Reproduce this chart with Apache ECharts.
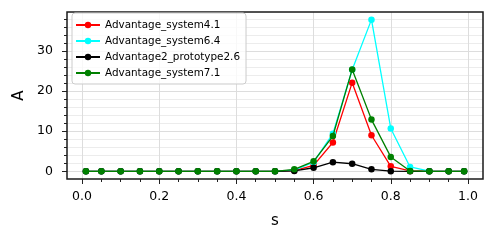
<!DOCTYPE html>
<html>
<head>
<meta charset="utf-8">
<script src="https://cdn.jsdelivr.net/npm/echarts@6/dist/echarts.min.js"></script>
<style>
html,body{margin:0;padding:0;background:#fff;}
#chart{width:496px;height:242px;}
</style>
</head>
<body>
<div id="chart"></div>
<script>
// ---- data ----
const sValues = [0.01,0.05,0.10,0.15,0.20,0.25,0.30,0.35,0.40,0.45,0.50,0.55,0.60,0.65,0.70,0.75,0.80,0.85,0.90,0.95,0.99];
const seriesNames = ['Advantage_system4.1','Advantage_system6.4','Advantage2_prototype2.6','Advantage_system7.1'];
const system41 =   [0,0,0,0,0,0,0,0,0,0,0,0.2,1.5,7.2,22.1,9.0,1.25,0.1,0,0,0];
const system64 =   [0,0,0,0,0,0,0,0,0,0,0,0.3,2.3,9.4,25.3,37.8,10.7,1.1,0.05,0,0];
const prototype26 =[0,0,0,0,0,0,0,0,0,0,0,0.1,0.9,2.3,1.9,0.5,0.05,0,0,0,0];
const system71 =   [0,0,0,0,0,0,0,0,0,0,0,0.5,2.5,8.8,25.4,12.9,3.6,0.1,0,0,0];
const xMajorTicks = [0,0.2,0.4,0.6,0.8,1.0];
const xMinorTicks = [0.05,0.1,0.15,0.25,0.3,0.35,0.45,0.5,0.55,0.65,0.7,0.75,0.85,0.9,0.95];
const yMajorTicks = [0,10,20,30];
const yMinorTicks = [2,4,6,8,12,14,16,18,22,24,26,28,32,34,36,38];

const colors = ['#ff0000','#00ffff','#000000','#008000'];
const allSeries = [system41, system64, prototype26, system71];
const FONT = 'DejaVu Sans';

const xRange = [-0.039, 1.039];
const yRange = [-1.9, 39.7];

function pairs(vals){ return sValues.map((s,i)=>[s, vals[i]]); }

const chart = echarts.init(document.getElementById('chart'), null, {renderer:'canvas'});
const option = {
  animation:false,
  backgroundColor:'#ffffff',
  grid:{left:67, top:12, width:416, height:167, show:true, borderColor:'#1a1a1a', borderWidth:1.5, backgroundColor:'transparent', z:3},
  legend:{
    left:72, top:13, orient:'vertical',
    data: seriesNames,
    itemWidth:24, itemHeight:8, itemGap:2,
    padding:[5,6,4,3],
    borderColor:'#cccccc', borderWidth:1, borderRadius:3,
    backgroundColor:'rgba(255,255,255,0.8)',
    textStyle:{fontFamily:FONT, fontSize:10.4, color:'#000', lineHeight:14},
    z:10
  },
  xAxis:[
    {type:'value', min:xRange[0], max:xRange[1], position:'bottom',
     name:'s', nameLocation:'middle', nameGap:35,
     nameTextStyle:{fontFamily:FONT, fontSize:15, color:'#000'},
     axisLine:{show:false, onZero:false},
     axisTick:{show:true, inside:false, length:5, customValues:xMajorTicks, lineStyle:{color:'#222', width:1}},
     axisLabel:{show:true, customValues:xMajorTicks, margin:11, fontFamily:FONT, fontSize:12.5, color:'#000',
       formatter:v=>v.toFixed(1)},
     splitLine:{show:true, lineStyle:{color:'#dddddd', width:1}}
    },
    {type:'value', min:xRange[0], max:xRange[1], position:'bottom',
     axisLine:{show:false, onZero:false},
     axisTick:{show:true, inside:false, length:3, customValues:xMinorTicks, lineStyle:{color:'#222', width:1}},
     axisLabel:{show:false},
     splitLine:{show:false}
    }
  ],
  yAxis:[
    {type:'value', min:yRange[0], max:yRange[1], position:'left',
     name:'A', nameLocation:'middle', nameGap:37, nameRotate:90,
     nameTextStyle:{fontFamily:FONT, fontSize:15, color:'#000'},
     axisLine:{show:false, onZero:false},
     axisTick:{show:true, inside:false, length:5, customValues:yMajorTicks, lineStyle:{color:'#222', width:1}},
     axisLabel:{show:true, customValues:yMajorTicks, margin:14, fontFamily:FONT, fontSize:12.5, color:'#000'},
     splitLine:{show:true, lineStyle:{color:'#dddddd', width:1}}
    },
    {type:'value', min:yRange[0], max:yRange[1], position:'left',
     axisLine:{show:false, onZero:false},
     axisTick:{show:true, inside:false, length:3, customValues:yMinorTicks, lineStyle:{color:'#222', width:1}},
     axisLabel:{show:false},
     splitLine:{show:true, lineStyle:{color:'#ececec', width:1}}
    }
  ],
  series: seriesNames.map((name,i)=>({
    name:name, type:'line', xAxisIndex:0, yAxisIndex:0,
    data:pairs(allSeries[i]),
    symbol:'circle', symbolSize:6.5, showSymbol:true,
    lineStyle:{color:colors[i], width:1.3},
    itemStyle:{color:colors[i]},
    z:4+i
  }))
};
chart.setOption(option);
</script>
</body>
</html>
